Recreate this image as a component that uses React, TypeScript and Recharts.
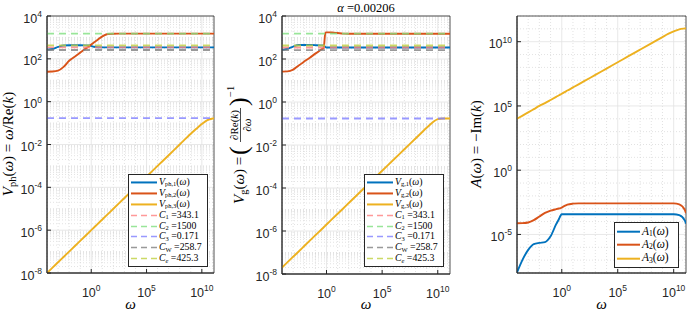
import React from 'react'
import { LineChart, Line, XAxis, YAxis, CartesianGrid, ReferenceArea } from 'recharts'

// angular frequency samples shared by every curve
const omega = [1e-4, 3.16e-4, 1e-3, 3.16e-3, 1e-2, 3.16e-2, 0.1, 0.316, 0.562, 0.794, 1, 1.78, 3.16, 10, 31.6, 100, 1e3, 1e4, 1e5, 1e6, 1e7, 1e8, 1e9, 3.16e9, 1e10, 3.16e10, 1e11, 1.26e11]

// phase velocities
const vph1 = [268, 288, 360, 420, 428, 428, 428, 427, 425, 418, 402, 368, 350, 344, 343.1, 343.1, 343.1, 343.1, 343.1, 343.1, 343.1, 343.1, 343.1, 343.1, 343.1, 343.1, 343.1, 343.1]
const vph2 = [25, 25.5, 28, 42, 81, 126, 195, 302, 370, 420, 468, 590, 724, 1120, 1440, 1495, 1500, 1500, 1500, 1500, 1500, 1500, 1500, 1500, 1500, 1500, 1500, 1500]
const vph3 = [1e-8, 1.78e-8, 3.16e-8, 5.62e-8, 1e-7, 1.78e-7, 3.16e-7, 5.62e-7, 7.5e-7, 8.91e-7, 1e-6, 1.33e-6, 1.78e-6, 3.16e-6, 5.62e-6, 1e-5, 3.16e-5, 1e-4, 3.16e-4, 1e-3, 3.16e-3, 0.01, 0.0316, 0.054, 0.09, 0.138, 0.164, 0.167]

// group velocities
const vg1 = [262, 300, 380, 445, 450, 447, 440, 430, 422, 360, 344, 343.1, 343.1, 343.1, 343.1, 343.1, 343.1, 343.1, 343.1, 343.1, 343.1, 343.1, 343.1, 343.1, 343.1, 343.1, 343.1, 343.1]
const vg2 = [26, 26.5, 32, 50, 76, 115, 178, 270, 330, 1700, 1740, 1740, 1720, 1620, 1510, 1500, 1500, 1500, 1500, 1500, 1500, 1500, 1500, 1500, 1500, 1500, 1500, 1500]
const vg3 = [2e-8, 3.56e-8, 6.32e-8, 1.12e-7, 2e-7, 3.56e-7, 6.32e-7, 1.12e-6, 1.5e-6, 1.78e-6, 2e-6, 2.67e-6, 3.56e-6, 6.32e-6, 1.12e-5, 2e-5, 6.32e-5, 2e-4, 6.32e-4, 2e-3, 6.32e-3, 0.02, 0.0632, 0.108, 0.16, 0.17, 0.171, 0.171]

// attenuation
const a1 = [1.1e-8, 1.1e-7, 6.3e-7, 1.8e-6, 2.2e-6, 2.5e-6, 7.1e-6, 6.3e-5, 1.6e-4, 3e-4, 3.7e-4, 3.7e-4, 3.7e-4, 3.7e-4, 3.7e-4, 3.7e-4, 3.7e-4, 3.7e-4, 3.7e-4, 3.7e-4, 3.7e-4, 3.7e-4, 3.7e-4, 3.7e-4, 3.7e-4, 3.2e-4, 1.2e-4, 7e-5]
const a2 = [7.4e-5, 7.6e-5, 8.5e-5, 1.3e-4, 2.5e-4, 4.7e-4, 7.1e-4, 9.3e-4, 1.05e-3, 1.12e-3, 1.26e-3, 1.66e-3, 2.1e-3, 2.5e-3, 2.63e-3, 2.63e-3, 2.63e-3, 2.63e-3, 2.63e-3, 2.63e-3, 2.63e-3, 2.63e-3, 2.63e-3, 2.63e-3, 2.63e-3, 2.2e-3, 8e-4, 4.5e-4]
const a3 = [1e4, 1.78e4, 3.16e4, 5.62e4, 1e5, 1.66e5, 2.9e5, 5.1e5, 6.8e5, 7.9e5, 8.9e5, 1.18e6, 1.58e6, 2.75e6, 4.8e6, 8.5e6, 2.6e7, 8.1e7, 2.5e8, 7.8e8, 2.4e9, 7.4e9, 2.3e10, 4e10, 6.3e10, 9.1e10, 1.07e11, 1.1e11]

// reference speeds
const C1 = 343.1
const C2 = 1500
const C3 = 0.171
const CW = 258.7
const Ce = 425.3
const alpha = 0.00206

const xTicks = [1, 1e5, 1e10]
const vTicks = [1e-8, 1e-6, 1e-4, 1e-2, 1, 1e2, 1e4]
const aTicks = [1e-5, 1, 1e5, 1e10]

const X_DOMAIN: [number, number] = [1e-4, 1.26e11]
const V_DOMAIN: [number, number] = [1e-8, 1e4]
const A_DOMAIN: [number, number] = [1e-8, 1e12]

const BLUE = '#0072BD'
const RED = '#D95319'
const YELLOW = '#EDB120'
const AXIS = '#262626'
const MATH_FONT = '"Liberation Serif", "DejaVu Serif", serif'
const TICK_FONT = '"Liberation Sans", Arial, sans-serif'

const phTable = omega.map((w, i) => ({ w, s1: vph1[i], s2: vph2[i], s3: vph3[i], c1: C1, c2: C2, c3: C3, cw: CW, ce: Ce }))
const gTable = omega.map((w, i) => ({ w, s1: vg1[i], s2: vg2[i], s3: vg3[i], c1: C1, c2: C2, c3: C3, cw: CW, ce: Ce }))
const aTable = omega.map((w, i) => ({ w, s1: a1[i], s2: a2[i], s3: a3[i] }))

// grid helpers (log axes)
function decadeLines(lo: number, hi: number, skip: number[]) {
  const out: number[] = []
  for (let e = lo; e <= hi; e++) if (!skip.includes(e)) out.push(Math.pow(10, e))
  return out
}
function subDecadeLines(lo: number, hi: number) {
  const out: number[] = []
  for (let e = lo; e < hi; e++) for (let m = 2; m <= 9; m++) out.push(m * Math.pow(10, e))
  return out
}

const xMinor = decadeLines(-4, 11, [0, 5, 10])
const vMinor = [...decadeLines(-8, 4, [-8, -6, -4, -2, 0, 2, 4]), ...subDecadeLines(-8, 4)]
const aMinor = decadeLines(-8, 12, [-5, 0, 5, 10])

const Sub = ({ children }: { children: React.ReactNode }) => (
  <span style={{ fontSize: '0.66em', position: 'relative', top: '0.2em', fontStyle: 'normal' }}>{children}</span>
)

interface SeriesDef {
  key: string
  color: string
  dashed?: boolean
  label: React.ReactNode
}

const refSeries: SeriesDef[] = [
  { key: 'c1', color: '#ff7f7f', dashed: true, label: <><i>C</i><Sub>1</Sub> ={C1}</> },
  { key: 'c2', color: '#7fdf7f', dashed: true, label: <><i>C</i><Sub>2</Sub> ={C2}</> },
  { key: 'c3', color: '#7f7fff', dashed: true, label: <><i>C</i><Sub>3</Sub> ={C3}</> },
  { key: 'cw', color: '#7f7f7f', dashed: true, label: <><i>C</i><Sub>W</Sub> ={CW}</> },
  { key: 'ce', color: '#bfcf3f', dashed: true, label: <><i>C</i><Sub><i>e</i></Sub> ={Ce}</> },
]

const phSeries: SeriesDef[] = [
  { key: 's1', color: BLUE, label: <><i>V</i><Sub>ph,1</Sub>(<i>ω</i>)</> },
  { key: 's2', color: RED, label: <><i>V</i><Sub>ph,2</Sub>(<i>ω</i>)</> },
  { key: 's3', color: YELLOW, label: <><i>V</i><Sub>ph,3</Sub>(<i>ω</i>)</> },
  ...refSeries,
]
const gSeries: SeriesDef[] = [
  { key: 's1', color: BLUE, label: <><i>V</i><Sub>g,1</Sub>(<i>ω</i>)</> },
  { key: 's2', color: RED, label: <><i>V</i><Sub>g,2</Sub>(<i>ω</i>)</> },
  { key: 's3', color: YELLOW, label: <><i>V</i><Sub>g,3</Sub>(<i>ω</i>)</> },
  ...refSeries,
]
const aSeries: SeriesDef[] = [
  { key: 's1', color: BLUE, label: <><i>A</i><Sub>1</Sub>(<i>ω</i>)</> },
  { key: 's2', color: RED, label: <><i>A</i><Sub>2</Sub>(<i>ω</i>)</> },
  { key: 's3', color: YELLOW, label: <><i>A</i><Sub>3</Sub>(<i>ω</i>)</> },
]

function YTick({ x, y, payload }: any) {
  const e = Math.round(Math.log10(payload.value))
  return (
    <text x={x} y={y + 6.5} textAnchor="end" fill={AXIS} fontFamily={TICK_FONT} fontSize={12.5}>
      10<tspan dy={-5.5} fontSize={8.5}>{e}</tspan>
    </text>
  )
}

function XTick({ x, y, payload }: any) {
  const e = Math.round(Math.log10(payload.value))
  return (
    <text x={x} y={y + 23.5} textAnchor="middle" fill={AXIS} fontFamily={TICK_FONT} fontSize={12.5}>
      10<tspan dy={-5.5} fontSize={8.5}>{e}</tspan>
    </text>
  )
}

interface PanelProps {
  left: number
  width: number
  marginRight: number
  xAxisHeight: number
  data: Record<string, number>[]
  series: SeriesDef[]
  yDomain: [number, number]
  yTicks: number[]
  yMinor: number[]
}

function Panel({ left, width, marginRight, xAxisHeight, data, series, yDomain, yTicks, yMinor }: PanelProps) {
  return (
    <div style={{ position: 'absolute', left, top: 0 }}>
      <LineChart width={width} height={311} data={data} margin={{ top: 16, right: marginRight, bottom: 0, left: 0 }}>
        <CartesianGrid horizontalValues={yMinor} verticalValues={xMinor} stroke="#cfcfcf" strokeDasharray="1 2" strokeWidth={0.6} />
        <CartesianGrid horizontalValues={yTicks} verticalValues={xTicks} stroke="#e2e2e2" strokeWidth={0.8} />
        <XAxis
          dataKey="w"
          type="number"
          scale="log"
          domain={X_DOMAIN}
          allowDataOverflow
          ticks={xTicks}
          interval={0}
          height={xAxisHeight}
          tick={<XTick />}
          tickSize={-4}
          tickMargin={4}
          stroke={AXIS}
          tickLine={{ stroke: AXIS }}
        />
        <YAxis
          type="number"
          scale="log"
          domain={yDomain}
          allowDataOverflow
          ticks={yTicks}
          interval={0}
          width={47}
          tick={<YTick />}
          tickSize={-4}
          tickMargin={9}
          stroke={AXIS}
          tickLine={{ stroke: AXIS }}
        />
        {series.map((s) => (
          <Line
            key={s.key}
            dataKey={s.key}
            type={s.dashed ? 'linear' : 'monotone'}
            stroke={s.color}
            strokeWidth={s.dashed ? 1.8 : 1.9}
            strokeDasharray={s.dashed ? '7 5' : undefined}
            strokeOpacity={s.dashed ? 0.8 : 1}
            dot={false}
            activeDot={false}
            isAnimationActive={false}
          />
        ))}
        <ReferenceArea
          x1={X_DOMAIN[0]}
          x2={X_DOMAIN[1]}
          y1={yDomain[0]}
          y2={yDomain[1]}
          fill="none"
          fillOpacity={0}
          stroke={AXIS}
          strokeWidth={0.8}
          ifOverflow="visible"
        />
      </LineChart>
    </div>
  )
}

function LegendBox({ left, top, width, rowH, fontSize, lineW, items }: {
  left: number; top: number; width: number; rowH: number; fontSize: number; lineW: number; items: SeriesDef[]
}) {
  return (
    <div
      style={{
        position: 'absolute', left, top, width, background: '#fff', border: `1px solid ${AXIS}`,
        padding: '2px 0', fontFamily: MATH_FONT, fontSize, color: '#000', boxSizing: 'border-box',
      }}
    >
      {items.map((it) => (
        <div key={it.key} style={{ display: 'flex', alignItems: 'center', height: rowH, overflow: 'visible' }}>
          <svg width={lineW + 4} height={rowH} style={{ flex: 'none' }}>
            <line
              x1={2}
              x2={lineW + 2}
              y1={rowH / 2}
              y2={rowH / 2}
              stroke={it.color}
              strokeOpacity={it.dashed ? 0.8 : 1}
              strokeWidth={it.dashed ? 1.6 : 2}
              strokeDasharray={it.dashed ? '6 4' : undefined}
            />
          </svg>
          <span style={{ whiteSpace: 'nowrap', lineHeight: `${rowH - 1}px` }}>{it.label}</span>
        </div>
      ))}
    </div>
  )
}

function Labels() {
  const t = { fontFamily: MATH_FONT, fill: '#000' }
  return (
    <svg width={687} height={311} style={{ position: 'absolute', left: 0, top: 0, pointerEvents: 'none' }}>
      {/* title */}
      <text x={366} y={11.5} textAnchor="middle" fontSize={12.5} {...t}>
        <tspan fontStyle="italic">α</tspan> ={alpha}
      </text>
      {/* x labels */}
      {[130.5, 366, 601.5].map((cx) => (
        <text key={cx} x={cx} y={309} textAnchor="middle" fontSize={15} fontStyle="italic" {...t}>ω</text>
      ))}
      {/* y label 1 */}
      <g transform="translate(13,144) rotate(-90)">
        <text x={0} y={0} textAnchor="middle" fontSize={15} {...t}>
          <tspan fontStyle="italic">V</tspan>
          <tspan fontSize={10.5} dy={3}>ph</tspan>
          <tspan dy={-3}>(</tspan>
          <tspan fontStyle="italic">ω</tspan>
          <tspan>) = </tspan>
          <tspan fontStyle="italic">ω</tspan>
          <tspan>/Re(</tspan>
          <tspan fontStyle="italic">k</tspan>
          <tspan>)</tspan>
        </text>
      </g>
      {/* y label 2 */}
      <g transform="translate(244,144) rotate(-90)">
        <text x={-60} y={0} fontSize={15} {...t}>
          <tspan fontStyle="italic">V</tspan>
          <tspan fontSize={10.5} dy={3}>g</tspan>
          <tspan dy={-3}>(</tspan>
          <tspan fontStyle="italic">ω</tspan>
          <tspan>) =</tspan>
        </text>
        <text x={-11} y={3} fontSize={26} {...t}>(</text>
        <text x={19} y={-6} textAnchor="middle" fontSize={11} {...t}>
          <tspan fontStyle="italic">∂</tspan>Re(<tspan fontStyle="italic">k</tspan>)
        </text>
        <line x1={2} x2={36} y1={-3.5} y2={-3.5} stroke="#000" strokeWidth={0.7} />
        <text x={19} y={6.5} textAnchor="middle" fontSize={11} fontStyle="italic" {...t}>∂ω</text>
        <text x={38} y={3} fontSize={26} {...t}>)</text>
        <text x={47} y={-10} fontSize={10.5} {...t}>−1</text>
      </g>
      {/* y label 3 */}
      <g transform="translate(481,144) rotate(-90)">
        <text x={0} y={0} textAnchor="middle" fontSize={15} {...t}>
          <tspan fontStyle="italic">A</tspan>
          <tspan>(</tspan>
          <tspan fontStyle="italic">ω</tspan>
          <tspan>) = −Im(</tspan>
          <tspan fontStyle="italic">k</tspan>
          <tspan>)</tspan>
        </text>
      </g>
    </svg>
  )
}

export default function App() {
  return (
    <div style={{ position: 'absolute', left: 0, top: 0, width: 687, height: 311, background: '#fff', overflow: 'hidden' }}>
      <Panel left={0} width={230} marginRight={16} xAxisHeight={38} data={phTable} series={phSeries} yDomain={V_DOMAIN} yTicks={vTicks} yMinor={vMinor} />
      <Panel left={235} width={230} marginRight={15} xAxisHeight={37} data={gTable} series={gSeries} yDomain={V_DOMAIN} yTicks={vTicks} yMinor={vMinor} />
      <Panel left={470} width={217} marginRight={1} xAxisHeight={38} data={aTable} series={aSeries} yDomain={A_DOMAIN} yTicks={aTicks} yMinor={aMinor} />
      <LegendBox left={128} top={174} width={80} rowH={10.9} fontSize={9.8} lineW={26} items={phSeries} />
      <LegendBox left={364} top={174} width={80} rowH={10.9} fontSize={9.8} lineW={26} items={gSeries} />
      <LegendBox left={614} top={222} width={65} rowH={13.4} fontSize={11.5} lineW={23} items={aSeries} />
      <Labels />
    </div>
  )
}
